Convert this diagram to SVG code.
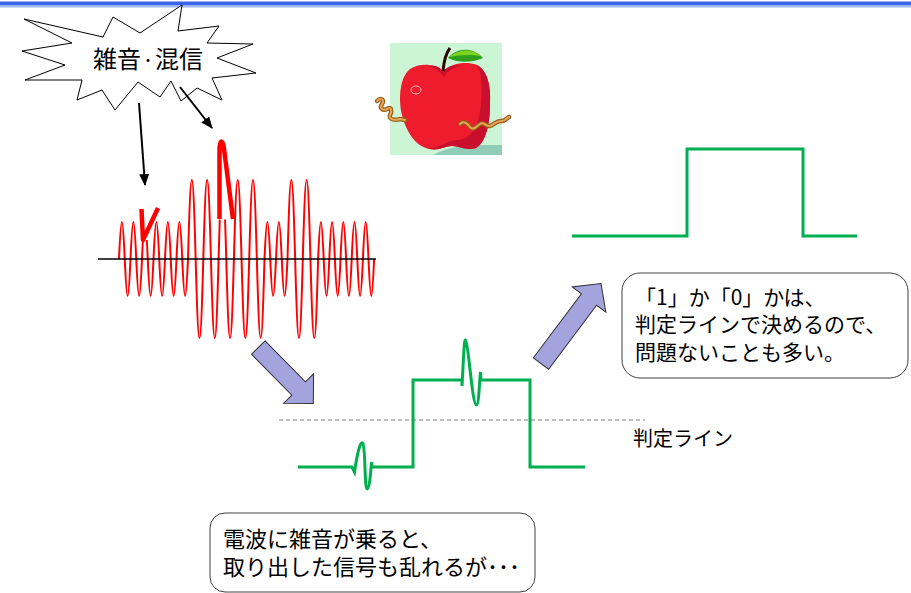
<svg xmlns="http://www.w3.org/2000/svg" width="911" height="593" viewBox="0 0 911 593">
  <style>
    .jp { font-family: "Noto Sans CJK JP", "Liberation Sans", sans-serif; fill: #000; }
    .box { fill: #fff; stroke: #404040; stroke-width: 1; }
    .sig { fill: none; stroke: #00B050; stroke-width: 3; stroke-linejoin: miter; }
    .wave { fill: none; stroke: #FF0000; stroke-width: 2; }
    .spike { fill: none; stroke: #FF0000; stroke-width: 4.5; stroke-linejoin: round; }
    .ptr { fill: none; stroke: #000; stroke-width: 2; }
    .blk { fill: #A3A3DD; stroke: #333; stroke-width: 1; }
    .worm-out { fill: none; stroke: #9A5C18; stroke-width: 4.5; stroke-linecap: round; }
    .worm-in { fill: none; stroke: #E4A858; stroke-width: 2; stroke-linecap: round; }
  </style>
  <defs>
    <marker id="head" viewBox="0 0 12 10" refX="11" refY="5" markerWidth="12" markerHeight="10" markerUnits="userSpaceOnUse" orient="auto">
      <path d="M0,0 L12,5 L0,10 Z" fill="#000"/>
    </marker>
    <clipPath id="waveCut">
      <path clip-rule="evenodd" d="M90,120H390V350H90Z M139.5,200H150.3V240H139.5Z M218.8,120H227V219.5H218.8Z"/>
    </clipPath>
    <path id="wormL" d="M377,101 C381,97 385,100 382,104 C379,108 383,111 387,109 C392,106 392,112 390,115 C388,119 395,121 400,119 L405,120"/>
    <path id="wormR" d="M460,124 C464,120 468,124 470,127 C473,131 477,126 480,124 C484,121 486,127 490,126 C495,124 497,120 502,121 C505,121 507,118 509,117"/>
  </defs>

  <rect width="911" height="593" fill="#fff"/>

  <!-- title rule -->
  <rect x="0" y="1.5" width="911" height="3.5" fill="#3B62E8"/>
  <rect x="0" y="5" width="911" height="2.5" fill="#9DB4F5"/>

  <!-- noise burst -->
  <g id="noise-burst">
    <polygon points="24,19 103,37 113,17 140,33 182,5 178,31 219,26 207,43 253,44 217,58 256,73 212,78 222,100 197,88 181,101 171,81 160,97 138,82 115,110 102,90 77,100 82,80 25,80 65,65 22,51 72,43" fill="#fff" stroke="#000" stroke-width="1"/>
    <text class="jp" x="148" y="68" font-size="24" text-anchor="middle">雑音<tspan font-size="14" dy="-3">・</tspan><tspan dy="3">混信</tspan></text>
  </g>

  <!-- apple clip art -->
  <g id="apple">
    <rect x="390" y="43" width="112" height="112" fill="#CCF5D6"/>
    <path d="M433,155 C445,148 462,145 480,145 L502,145 L502,155 Z" fill="#8FCDB8"/>
    <!-- body -->
    <path d="M443,71 C436,64 420,62 410,69 C400,77 398,98 402,115 C406,131 415,146 429,149 C440,151 445,146 452,146 C460,146 466,151 476,148 C486,142 490,124 490,104 C491,87 488,71 477,65 C466,61 452,63 443,71 Z" fill="#EE1C2C"/>
    <path d="M477,65 C488,71 491,87 490,104 C490,124 486,142 476,148 C466,151 460,146 452,146 C445,146 440,151 429,149 C441,147 448,140 458,140 C471,140 479,126 481,104 C483,85 481,73 477,65 Z" fill="#C8102E"/>
    <path d="M428,66 C436,64 441,68 443,72 C447,66 456,64 464,66 C455,66 448,70 444,77 C440,71 434,67 428,66 Z" fill="#C8102E"/>
    <ellipse cx="416" cy="90" rx="5" ry="4" fill="none" stroke="#F6B8B8" stroke-width="1"/>
    <!-- stem and leaf -->
    <path d="M443,71 C444,60 446,53 450,48" fill="none" stroke="#2A0A05" stroke-width="3"/>
    <path d="M448,58 C456,48 472,46 483,58 C474,62 460,64 448,58 Z" fill="#2E9E1E"/>
    <path d="M449,57 C458,49 471,48 481,56 C470,54 459,55 449,57 Z" fill="#7ED321"/>
    <!-- worm -->
    <use href="#wormL" class="worm-out"/>
    <use href="#wormL" class="worm-in"/>
    <use href="#wormR" class="worm-out"/>
    <use href="#wormR" class="worm-in"/>
  </g>

  <!-- received radio wave with noise -->
  <g id="radio-wave">
    <path class="wave" clip-path="url(#waveCut)" d="M119,259
      c2.2,-49.3 3.55,-49.3 5.75,0 c2.2,49.3 3.55,49.3 5.75,0
      c2.2,-49.3 3.55,-49.3 5.75,0 c2.2,49.3 3.55,49.3 5.75,0
      c2.2,-49.3 3.55,-49.3 5.75,0 c2.2,49.3 3.55,49.3 5.75,0
      c2.2,-49.3 3.55,-49.3 5.75,0 c2.2,49.3 3.55,49.3 5.75,0
      c2.2,-49.3 3.55,-49.3 5.75,0 c2.2,49.3 3.55,49.3 5.75,0
      c2.2,-49.3 3.55,-49.3 5.75,0 c2.2,49.3 3.55,49.3 5.75,0
      c2.9,-105.3 4.75,-105.3 7.65,0 c2.9,105.3 4.75,105.3 7.65,0
      c2.9,-105.3 4.75,-105.3 7.65,0 c2.9,105.3 4.75,105.3 7.65,0
      c2.9,-105.3 4.75,-105.3 7.65,0 c2.9,105.3 4.75,105.3 7.65,0
      c2.9,-105.3 4.75,-105.3 7.65,0 c2.9,105.3 4.75,105.3 7.65,0
      c2.9,-105.3 4.75,-105.3 7.65,0 c2.9,105.3 4.75,105.3 7.65,0
      c2.2,-49.3 3.55,-49.3 5.75,0 c2.2,49.3 3.55,49.3 5.75,0
      c2.2,-49.3 3.55,-49.3 5.75,0 c2.2,49.3 3.55,49.3 5.75,0
      c2.9,-105.3 4.75,-105.3 7.65,0 c2.9,105.3 4.75,105.3 7.65,0
      c2.9,-105.3 4.75,-105.3 7.65,0 c2.9,105.3 4.75,105.3 7.65,0
      c2.15,-49.3 3.45,-49.3 5.6,0 c2.15,49.3 3.45,49.3 5.6,0
      c2.15,-49.3 3.45,-49.3 5.6,0 c2.15,49.3 3.45,49.3 5.6,0
      c2.15,-49.3 3.45,-49.3 5.6,0 c2.15,49.3 3.45,49.3 5.6,0
      c2.15,-49.3 3.45,-49.3 5.6,0 c2.15,49.3 3.45,49.3 5.6,0
      c2.15,-49.3 3.45,-49.3 5.6,0 c2.15,49.3 3.45,49.3 5.6,0"/>
    <path d="M98,259 H376" stroke="#000" stroke-width="1.5"/>
    <path class="spike" d="M141.5,209 L143,240 L158,208"/>
    <path class="spike" d="M219.5,219 L219.5,148 Q220.5,137 223.5,145 L233,219"/>
  </g>

  <!-- decoded signal with noise -->
  <g id="noisy-signal">
    <path d="M279,420 H645" stroke="#7F7F7F" stroke-width="1.2" stroke-dasharray="4 3"/>
    <path class="sig" d="M298,467 H352 L354.5,472 C357,455 360,441 362.7,443 C365.5,446 364.5,489 367,489 C370,489 370.5,470 371.7,462 L372,467 H413 V380 H462 L462,386 C463.5,360 464,339 465.5,340 C468.5,342 472,405 476.5,405 C479,405 479.5,378 480.5,372 L481,380 H530 V467 H585"/>
    <text class="jp" x="633" y="446" font-size="20">判定ライン</text>
  </g>

  <!-- clean decided signal -->
  <g id="clean-signal">
    <path class="sig" d="M572,236 H687 V149 H803 V236 H857"/>
  </g>

  <!-- callouts -->
  <g id="note-decision">
    <rect class="box" x="622" y="273" width="286" height="105" rx="18"/>
    <text class="jp" x="635" y="305" font-size="21">「1」か「0」かは、</text>
    <text class="jp" x="635" y="332" font-size="21">判定ラインで決めるので、</text>
    <text class="jp" x="635" y="360" font-size="21">問題ないことも多い。</text>
  </g>
  <g id="note-noise">
    <rect class="box" x="210" y="513" width="325" height="79" rx="15"/>
    <text class="jp" x="223" y="547" font-size="22">電波に雑音が乗ると、</text>
    <text class="jp" x="223" y="575" font-size="22">取り出した信号も乱れるが･･･</text>
  </g>

  <!-- connectors -->
  <g id="connectors">
    <path class="ptr" d="M139,103 L145,185" marker-end="url(#head)"/>
    <path class="ptr" d="M180,87 L212,128" marker-end="url(#head)"/>
    <path class="blk" d="M0,-9.5 H57.5 V-21 L78.5,0 L57.5,21 V9.5 H0 Z" transform="translate(258.3,347.5) rotate(45.5)"/>
    <path class="blk" d="M0,-9.5 H80 V-21 L100,0 L80,21 V9.5 H0 Z" transform="translate(541,363.5) rotate(-53.1)"/>
  </g>
</svg>
